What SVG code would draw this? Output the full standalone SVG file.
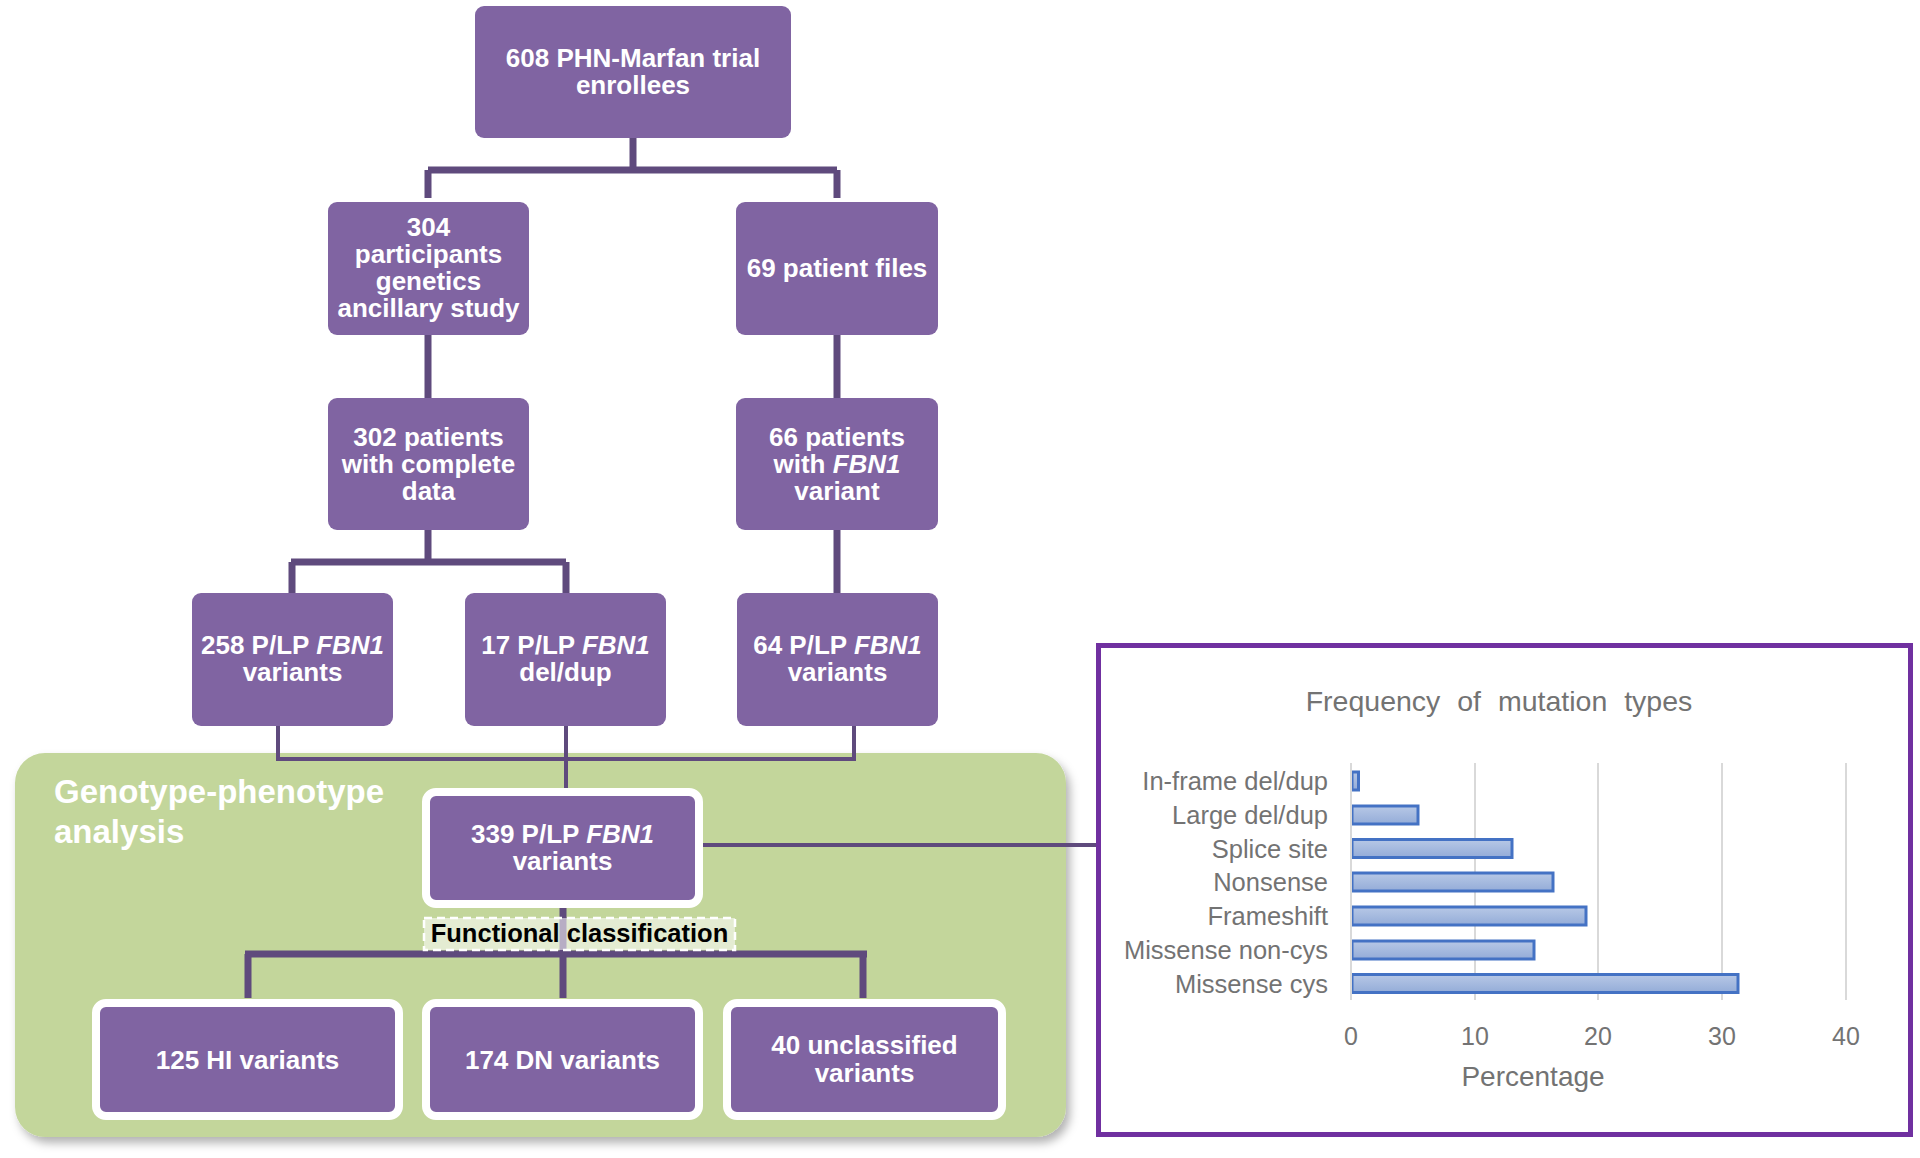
<svg xmlns="http://www.w3.org/2000/svg" width="1920" height="1158" viewBox="0 0 1920 1158">
<defs>
<style>
.box{fill:#8064a2;}
.wbox{fill:#8064a2;stroke:#ffffff;stroke-width:8;}
.t{font-family:"Liberation Sans",Arial,sans-serif;font-weight:bold;font-size:26px;fill:#ffffff;text-anchor:middle;}
.c{stroke:#5f4a7d;fill:none;stroke-linecap:butt;}
.thick{stroke-width:7;}
.thin{stroke-width:4;}
.ct{font-family:"Liberation Sans",Arial,sans-serif;fill:#737373;}
.lab{font-size:25.5px;text-anchor:end;}
.num{font-size:25px;text-anchor:middle;}
.grid{stroke:#d9d9d9;stroke-width:2;}
.bar{fill:url(#bg);stroke:#4472c4;stroke-width:3;}
</style>
<linearGradient id="bg" x1="0" y1="0" x2="0" y2="1">
<stop offset="0" stop-color="#b7c8e6"/>
<stop offset="1" stop-color="#94acd8"/>
</linearGradient>
<filter id="sh" x="-5%" y="-5%" width="112%" height="115%">
<feDropShadow dx="4" dy="6" stdDeviation="5" flood-color="#000000" flood-opacity="0.3"/>
</filter>
</defs>
<rect width="1920" height="1158" fill="#ffffff"/>

<g id="region-genotype">
<rect x="15" y="753" width="1051" height="384" rx="30" fill="#c3d69b" filter="url(#sh)"/>
<text x="54" y="803" font-family="Liberation Sans,Arial,sans-serif" font-weight="bold" font-size="33" fill="#ffffff">Genotype-phenotype</text>
<text x="54" y="843" font-family="Liberation Sans,Arial,sans-serif" font-weight="bold" font-size="33" fill="#ffffff">analysis</text>
</g>

<g id="connectors">
<path class="c thick" d="M633,138 V170 M428,170 H837 M428,170 V198 M837,170 V198"/>
<path class="c thick" d="M428,335 V398 M837,335 V398"/>
<path class="c thick" d="M428,530 V562 M291,562 H566 M292,562 V593 M566,562 V593 M837,530 V593"/>
<path class="c thin" d="M278,726 V759 H854 V726 M566,726 V790"/>
<path class="c thin" d="M703,845 H1096"/>
<path class="c thick" d="M563,905 V998 M245,954 H867 M248,954 V998 M863,954 V998"/>
</g>

<g id="label-functional">
<rect x="424" y="918" width="311" height="32" fill="#ffffff" fill-opacity="0.55" stroke="#ffffff" stroke-width="2.5" stroke-dasharray="8,5"/>
<text x="579.5" y="942" font-family="Liberation Sans,Arial,sans-serif" font-weight="bold" font-size="25.5" fill="#000000" text-anchor="middle">Functional classification</text>
</g>

<g id="node-608">
<rect class="box" x="475" y="6" width="316" height="132" rx="9"/>
<text class="t" x="633" y="67">608 PHN-Marfan trial</text>
<text class="t" x="633" y="94">enrollees</text>
</g>
<g id="node-304">
<rect class="box" x="328" y="202" width="201" height="133" rx="9"/>
<text class="t" x="428.5" y="236">304</text>
<text class="t" x="428.5" y="263">participants</text>
<text class="t" x="428.5" y="290">genetics</text>
<text class="t" x="428.5" y="317">ancillary study</text>
</g>
<g id="node-69">
<rect class="box" x="736" y="202" width="202" height="133" rx="9"/>
<text class="t" x="837" y="277">69 patient files</text>
</g>
<g id="node-302">
<rect class="box" x="328" y="398" width="201" height="132" rx="9"/>
<text class="t" x="428.5" y="446">302 patients</text>
<text class="t" x="428.5" y="473">with complete</text>
<text class="t" x="428.5" y="500">data</text>
</g>
<g id="node-66">
<rect class="box" x="736" y="398" width="202" height="132" rx="9"/>
<text class="t" x="837" y="446">66 patients</text>
<text class="t" x="837" y="473">with <tspan font-style="italic">FBN1</tspan></text>
<text class="t" x="837" y="500">variant</text>
</g>
<g id="node-258">
<rect class="box" x="192" y="593" width="201" height="133" rx="9"/>
<text class="t" x="292.5" y="654">258 P/LP <tspan font-style="italic">FBN1</tspan></text>
<text class="t" x="292.5" y="681">variants</text>
</g>
<g id="node-17">
<rect class="box" x="465" y="593" width="201" height="133" rx="9"/>
<text class="t" x="565.5" y="654">17 P/LP <tspan font-style="italic">FBN1</tspan></text>
<text class="t" x="565.5" y="681">del/dup</text>
</g>
<g id="node-64">
<rect class="box" x="737" y="593" width="201" height="133" rx="9"/>
<text class="t" x="837.5" y="654">64 P/LP <tspan font-style="italic">FBN1</tspan></text>
<text class="t" x="837.5" y="681">variants</text>
</g>
<g id="node-339">
<rect class="wbox" x="426" y="792" width="273" height="112" rx="10"/>
<text class="t" x="562.5" y="843">339 P/LP <tspan font-style="italic">FBN1</tspan></text>
<text class="t" x="562.5" y="870">variants</text>
</g>
<g id="node-125">
<rect class="wbox" x="96" y="1003" width="303" height="113" rx="10"/>
<text class="t" x="247.5" y="1069">125 HI variants</text>
</g>
<g id="node-174">
<rect class="wbox" x="426" y="1003" width="273" height="113" rx="10"/>
<text class="t" x="562.5" y="1069">174 DN variants</text>
</g>
<g id="node-40">
<rect class="wbox" x="727" y="1003" width="275" height="113" rx="10"/>
<text class="t" x="864.5" y="1054">40 unclassified</text>
<text class="t" x="864.5" y="1082">variants</text>
</g>

<g id="chart">
<rect x="1098.5" y="645.5" width="812" height="489" fill="#ffffff" stroke="#7030a0" stroke-width="5"/>
<text class="ct" x="1499" y="711" font-size="28.5" text-anchor="middle" word-spacing="9">Frequency of mutation types</text>
<line class="grid" x1="1475" y1="763" x2="1475" y2="1000"/>
<line class="grid" x1="1598" y1="763" x2="1598" y2="1000"/>
<line class="grid" x1="1722" y1="763" x2="1722" y2="1000"/>
<line class="grid" x1="1846" y1="763" x2="1846" y2="1000"/>
<rect class="bar" x="1352" y="772" width="6.5" height="18"/>
<rect class="bar" x="1352" y="806" width="66" height="18"/>
<rect class="bar" x="1352" y="839.5" width="160" height="18"/>
<rect class="bar" x="1352" y="873" width="201" height="18"/>
<rect class="bar" x="1352" y="907" width="234" height="18"/>
<rect class="bar" x="1352" y="941" width="182" height="18"/>
<rect class="bar" x="1352" y="974.5" width="386" height="18"/>
<line class="grid" x1="1351" y1="763" x2="1351" y2="1000"/>
<text class="ct lab" x="1328" y="790">In-frame del/dup</text>
<text class="ct lab" x="1328" y="824">Large del/dup</text>
<text class="ct lab" x="1328" y="857.5">Splice site</text>
<text class="ct lab" x="1328" y="891">Nonsense</text>
<text class="ct lab" x="1328" y="925">Frameshift</text>
<text class="ct lab" x="1328" y="959">Missense non-cys</text>
<text class="ct lab" x="1328" y="992.5">Missense cys</text>
<text class="ct num" x="1351" y="1045">0</text>
<text class="ct num" x="1475" y="1045">10</text>
<text class="ct num" x="1598" y="1045">20</text>
<text class="ct num" x="1722" y="1045">30</text>
<text class="ct num" x="1846" y="1045">40</text>
<text class="ct" x="1533" y="1086" font-size="28" text-anchor="middle">Percentage</text>
</g>
</svg>
